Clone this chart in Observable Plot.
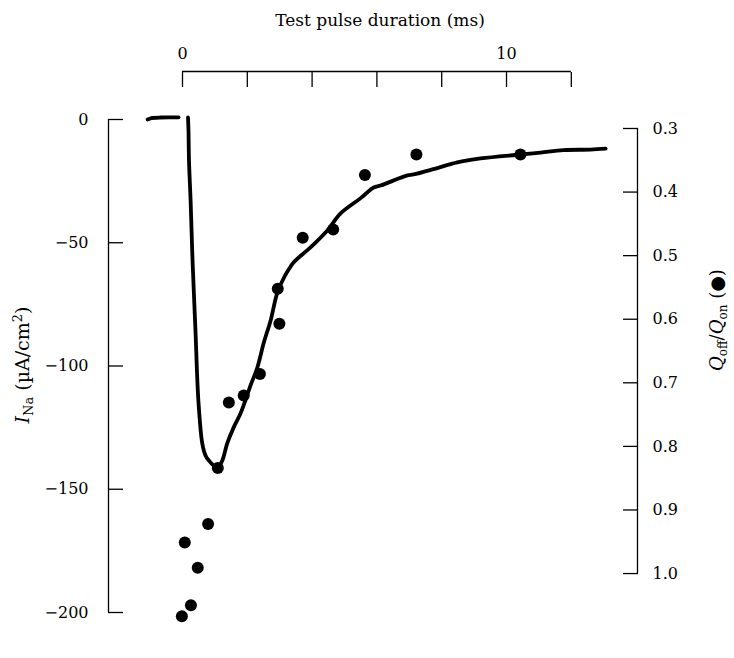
<!DOCTYPE html>
<html><head><meta charset="utf-8">
<script src="https://cdn.jsdelivr.net/npm/d3@7"></script>
<script src="https://cdn.jsdelivr.net/npm/@observablehq/plot@0.6"></script>
<style>body{margin:0;background:#fff}</style>
</head><body><div id="chart"></div>
<script>
// Baseline (holding current before the test pulse)
const baseT = [-1.08, -0.95, -0.7, -0.4, -0.12];
const baseI = [0.0, 0.6, 0.8, 0.9, 0.9];
// Sodium current trace I_Na (µA/cm²) vs test pulse duration (ms)
const traceT = [0.17, 0.185, 0.2, 0.25, 0.31, 0.40, 0.49, 0.61, 0.71, 0.81, 0.96, 1.09, 1.23, 1.38, 1.58, 1.79, 1.94, 2.10, 2.31, 2.51, 2.72, 2.92, 3.10, 3.27, 3.44, 3.95, 4.47, 4.88, 5.49, 5.90, 6.11, 6.94, 7.13, 7.81, 8.48, 9.2, 10.43, 11.05, 11.76, 12.59, 13.06];
const traceI = [0.8, -4.5, -16.6, -32.9, -57.2, -85.6, -114, -131.4, -136.3, -138.3, -140.4, -141.2, -138.3, -131.4, -124.9, -119.3, -114, -107.9, -100.6, -90.5, -81.5, -70.5, -65.0, -61.0, -57.8, -51.9, -45.0, -38.1, -32.0, -27.6, -26.8, -22.7, -22.3, -19.9, -17.4, -15.8, -14.2, -13.4, -12.4, -12.2, -11.8];
// Q_off/Q_on (filled circles)
const dotT = [-0.02, 0.26, 0.47, 0.07, 0.79, 1.09, 1.43, 1.89, 2.39, 2.99, 2.94, 3.71, 4.65, 5.63, 7.22, 10.43];
const dotQ = [1.067, 1.050, 0.991, 0.951, 0.922, 0.834, 0.731, 0.720, 0.686, 0.607, 0.552, 0.472, 0.459, 0.373, 0.341, 0.341];
// Axes
const xTicks = [0, 2, 4, 6, 8, 10, 12];
const xTickLabels = ["0", "", "", "", "", "10", ""];
const leftTicks = [0, -50, -100, -150, -200];
const rightTicks = [0.3, 0.4, 0.5, 0.6, 0.7, 0.8, 0.9, 1.0];

// right-axis alignment with the left axis
const Q_TOP = 0.3, Q_BOT = 1.0, I_AT_QTOP = -3.65, I_AT_QBOT = -184.2;
const qToI = q => I_AT_QTOP + (q - Q_TOP) / (Q_BOT - Q_TOP) * (I_AT_QBOT - I_AT_QTOP);
const iToQ = i => Q_TOP + (i - I_AT_QTOP) / (I_AT_QBOT - I_AT_QTOP) * (Q_BOT - Q_TOP);

const xMin = -2.284, xMax = 14.043, yMin = -200, yMax = 19.47;

const base = baseT.map((t, i) => ({t, I: baseI[i]}));
const trace = traceT.map((t, i) => ({t, I: traceI[i]}));
const dots = dotT.map((t, i) => ({t, Q: dotQ[i]}));

const font = "'DejaVu Serif', 'Liberation Serif', serif";

const plot = Plot.plot({
  width: 734, height: 658,
  marginLeft: 108, marginRight: 97, marginTop: 71, marginBottom: 46,
  x: {domain: [xMin, xMax]},
  y: {domain: [yMin, yMax]},
  style: {fontFamily: font, fontSize: "16px", color: "#000", background: "#fff", overflow: "visible"},
  marks: [
    Plot.ruleX([xMin], {y1: yMin, y2: 0, stroke: "#000", strokeWidth: 1.3}),
    Plot.ruleX([xMax], {y1: qToI(1.0), y2: qToI(0.3), stroke: "#000", strokeWidth: 1.3}),
    Plot.ruleY([yMax], {x1: 0, x2: 12, stroke: "#000", strokeWidth: 1.3}),
    Plot.axisY(leftTicks, {anchor: "left", tickSize: -15, tickPadding: 35, strokeWidth: 1.3, label: null,
      tickFormat: d => d === 0 ? "0" : "−" + Math.abs(d)}),
    Plot.axisY(rightTicks.map(qToI), {anchor: "right", tickSize: -15, tickPadding: 30, strokeWidth: 1.3, label: null,
      tickFormat: i => iToQ(i).toFixed(1)}),
    Plot.axisX(xTicks, {anchor: "top", tickSize: -15, tickPadding: 28, strokeWidth: 1.3, label: null,
      tickFormat: (d, i) => xTickLabels[i]}),
    Plot.line(base, {x: "t", y: "I", stroke: "#000", strokeWidth: 3.8}),
    Plot.line(trace, {x: "t", y: "I", stroke: "#000", strokeWidth: 3.8, curve: "catmull-rom"}),
    Plot.dot(dots, {x: "t", y: d => qToI(d.Q), r: 6, fill: "#000", stroke: null})
  ]
});

const svg = d3.select(plot);
// Top axis title
svg.append("text").attr("x", 380).attr("y", 26).attr("text-anchor", "middle")
  .attr("font-family", font).attr("font-size", 17).attr("fill", "#000")
  .text("Test pulse duration (ms)");
// Left axis label
const lt = svg.append("text").attr("transform", "translate(29,365) rotate(-90)")
  .attr("text-anchor", "middle").attr("font-family", font).attr("font-size", 19).attr("fill", "#000");
lt.append("tspan").attr("font-style", "italic").text("I");
lt.append("tspan").attr("font-size", 13).attr("dy", 4).text("Na");
lt.append("tspan").attr("dy", -4).text(" (µA/cm");
lt.append("tspan").attr("font-size", 13).attr("dy", -7).text("2");
lt.append("tspan").attr("dy", 7).text(")");
// Right axis label
const rt = svg.append("text").attr("transform", "translate(723,320) rotate(-90)")
  .attr("text-anchor", "middle").attr("font-family", font).attr("font-size", 18).attr("fill", "#000");
rt.append("tspan").attr("font-style", "italic").text("Q");
rt.append("tspan").attr("font-size", 12).attr("dy", 4).text("off");
rt.append("tspan").attr("dy", -4).text("/");
rt.append("tspan").attr("font-style", "italic").text("Q");
rt.append("tspan").attr("font-size", 12).attr("dy", 4).text("on");
rt.append("tspan").attr("dy", -4).text(" (●)");

document.getElementById("chart").appendChild(plot);
</script>
</body></html>
